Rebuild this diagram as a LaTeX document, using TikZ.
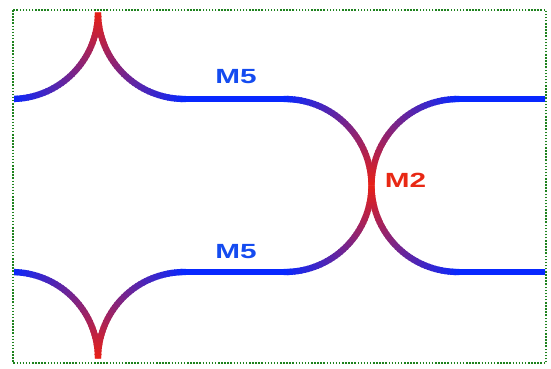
\documentclass[tikz,border=0pt]{standalone}
\usepackage{fontspec}
\setmainfont{Liberation Sans}
\definecolor{wblue}{RGB}{8,40,255}
\definecolor{wred}{RGB}{232,32,22}
\definecolor{tblue}{RGB}{20,75,240}
\definecolor{tred}{RGB}{232,40,20}
\definecolor{frame}{RGB}{30,130,30}
\tikzset{
  wire/.style={line width=6.3pt, line cap=butt},
  lbl/.style={inner sep=0pt, anchor=base, font=\fontsize{20.5}{24}\selectfont\bfseries},
}
% #1 cx, #2 cy, #3 radius, #4 angle at blue end, #5 angle at red end
\newcommand{\gradarc}[5]{%
  \foreach \j in {0,...,39}{%
    \pgfmathsetmacro\ta{#5+(#4-#5)*\j/40}%
    \pgfmathsetmacro\tb{#5+(#4-#5)*(\j+1.4)/40}%
    \pgfmathsetmacro\p{100-100*(\j+0.5)/40}%
    \draw[wire, draw=wred!\p!wblue] (#1,#2) ++(\ta:#3) arc[start angle=\ta, end angle=\tb, radius=#3];
  }%
}
\begin{document}
\begin{tikzpicture}[x=1pt,y=-1pt]
\useasboundingbox (0,0) rectangle (551,368);
\begin{scope}
  \clip (14,0) rectangle (545,368);
  % top wire
  \gradarc{11.5}{12.5}{86.5}{90}{0}
  \gradarc{184.5}{12.5}{86.5}{90}{180}
  % bottom wire
  \gradarc{11.5}{358.5}{86.5}{270}{360}
  \gradarc{184.5}{358.5}{86.5}{270}{180}
  % M2 semicircles
  \gradarc{285}{185.5}{86.5}{-90}{0}
  \gradarc{285}{185.5}{86.5}{90}{0}
  \gradarc{458}{185.5}{86.5}{270}{180}
  \gradarc{458}{185.5}{86.5}{90}{180}
  % straight parts
  \coordinate (t1) at (184,99);
  \coordinate (t2) at (285.5,99);
  \coordinate (t3) at (457.5,99);
  \coordinate (t4) at (546,99);
  \coordinate (b1) at (184,272);
  \coordinate (b2) at (285.5,272);
  \coordinate (b3) at (457.5,272);
  \coordinate (b4) at (546,272);
  \draw[wire, wblue] (t1) -- (t2);
  \draw[wire, wblue] (t3) -- (t4);
  \draw[wire, wblue] (b1) -- (b2);
  \draw[wire, wblue] (b3) -- (b4);
\end{scope}
\node[lbl, text=tblue] (m5a) at (236,83.5) {\scalebox{1.45}[1]{M5}};
\node[lbl, text=tblue] (m5b) at (236,258.7) {\scalebox{1.45}[1]{M5}};
\node[lbl, text=tred] (m2) at (405.5,187.3) {\scalebox{1.45}[1]{M2}};
\draw[frame, line width=1.6pt, dash pattern=on 1.5pt off 1.6pt] (13,10) rectangle (546,363);
\end{tikzpicture}
\end{document}
